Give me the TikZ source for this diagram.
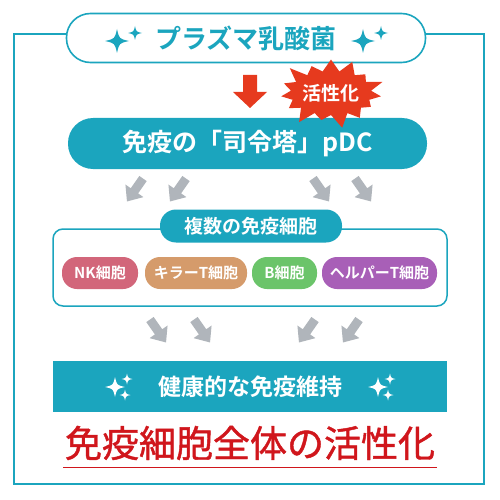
\documentclass[tikz,border=0pt]{standalone}
\usepackage{fontspec}
\setmainfont{Noto Sans CJK JP}[BoldFont={Noto Sans CJK JP Bold}]
\newfontfamily\heavyfont{Noto Sans CJK JP}[FakeBold=1.2]
\usetikzlibrary{shapes.symbols}
\definecolor{brandteal}{RGB}{27,165,190}
\definecolor{burstred}{RGB}{230,58,30}
\definecolor{titlered}{RGB}{208,22,28}
\definecolor{arrowgray}{RGB}{176,181,187}
\definecolor{nkpink}{RGB}{210,102,122}
\definecolor{killertan}{RGB}{213,155,107}
\definecolor{bgreen}{RGB}{107,196,106}
\definecolor{helperpurple}{RGB}{168,95,183}
\tikzset{every picture/.style={line width=0.75pt}}
% 灰色の矢印
\newcommand{\grayarrow}[3]{\fill[arrowgray, shift={(#1,#2)}, rotate=#3]
  (-4.5,-14) -- (4.5,-14) -- (4.5,1) -- (11,1) -- (0,14) -- (-11,1) -- (-4.5,1) -- cycle;}
% きらきら
\newcommand{\sparkle}[4]{\fill[#4, shift={(#1,#2)}, scale=#3]
  (0,-1) .. controls (0.18,-0.18) .. (1,0) .. controls (0.18,0.18) .. (0,1)
  .. controls (-0.18,0.18) .. (-1,0) .. controls (-0.18,-0.18) .. cycle;}

\begin{document}
\begin{tikzpicture}[x=1pt, y=-1pt,
    pill/.style={rounded corners=#1, inner sep=0pt, font=\bfseries},
    cellpill/.style={pill=15pt, fill=#1, text=white, minimum height=32pt, font=\bfseries\fontsize{15}{15}\selectfont}]
    \useasboundingbox (0,0) rectangle (500,500);
    % 外枠
    \draw[brandteal, line width=2pt] (14,34) rectangle (484,484);
    % プラズマ乳酸菌
    \node[pill=24pt, draw=brandteal, line width=1.6pt, fill=white, text=brandteal,
          minimum width=359pt, minimum height=49pt,
          font=\bfseries\fontsize{26}{26}\selectfont] (lab) at (246,38) {プラズマ乳酸菌};
    \sparkle{117}{41}{12}{brandteal}
    \sparkle{135}{33}{7}{brandteal}
    \sparkle{363}{41}{12}{brandteal}
    \sparkle{381}{33}{7}{brandteal}
    % 赤い矢印
    \fill[burstred] (243,75) -- (257,75) -- (257,92) -- (267,92) -- (250,108)
        -- (233,92) -- (243,92) -- cycle;
    % pDC
    \node[pill=25pt, fill=brandteal, text=white, minimum width=359pt, minimum height=51pt,
          font=\bfseries\fontsize{25}{25}\selectfont] (pdc) at (247.5,143.5) {免疫の「司令塔」pDC};
    % 活性化
    \node[starburst, starburst points=15, starburst point height=16pt, fill=burstred,
          minimum width=102pt, minimum height=76pt, inner sep=0pt, text=white,
          font=\bfseries\fontsize{19}{19}\selectfont] (act) at (331,93) {活性化};
    % 上の矢印
    \grayarrow{135}{190}{-35}
    \grayarrow{178}{190}{-35}
    \grayarrow{321}{190}{35}
    \grayarrow{363}{190}{35}
    % 複数の免疫細胞
    \draw[brandteal, line width=1.5pt, fill=white, rounded corners=10pt] (53,229) rectangle (447,306);
    \node[pill=16pt, fill=brandteal, text=white, minimum width=182pt, minimum height=33pt,
          font=\bfseries\fontsize{19}{19}\selectfont] (cells) at (251,226) {複数の免疫細胞};
    \node[cellpill=nkpink, minimum width=76pt] (nk) at (100,273) {NK細胞};
    \node[cellpill=killertan, minimum width=102pt] (killer) at (196,273) {キラーT細胞};
    \node[cellpill=bgreen, minimum width=65pt] (bcell) at (284.5,273) {B細胞};
    \node[cellpill=helperpurple, minimum width=115pt] (helper) at (379.5,273) {ヘルパーT細胞};
    % 下の矢印
    \grayarrow{158}{331}{35}
    \grayarrow{202}{331}{35}
    \grayarrow{307}{331}{-35}
    \grayarrow{351}{331}{-35}
    % 健康的な免疫維持
    \node[fill=brandteal, text=white, minimum width=394pt, minimum height=51pt, inner sep=0pt,
          font=\bfseries\fontsize{23}{23}\selectfont] (health) at (250,386.5) {健康的な免疫維持};
    \sparkle{115}{387}{10}{white}
    \sparkle{127}{379}{5.5}{white}
    \sparkle{125}{395}{5.5}{white}
    \sparkle{378}{387}{10}{white}
    \sparkle{390}{379}{5.5}{white}
    \sparkle{388}{395}{5.5}{white}
    % 免疫細胞全体の活性化
    \node[text=titlered, inner sep=0pt, font=\heavyfont\fontsize{37}{37}\selectfont] (whole) at (250,443) {免疫細胞全体の活性化};
    \draw[titlered, line width=1pt] (63,467) -- (437,467);
\end{tikzpicture}
\end{document}
